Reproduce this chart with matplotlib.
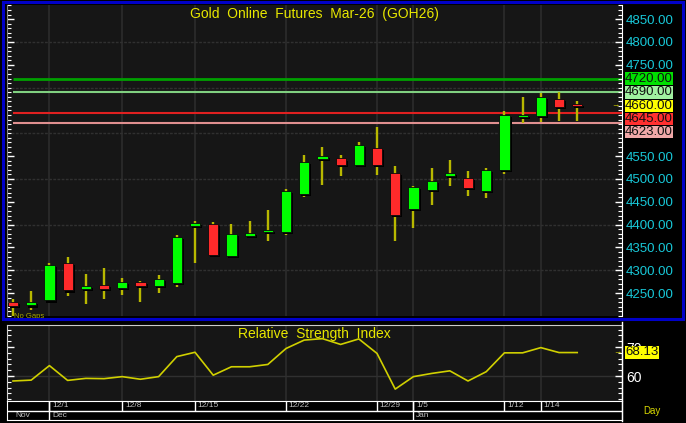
import matplotlib
matplotlib.use("Agg")
import matplotlib.pyplot as plt
from matplotlib.patches import Rectangle
from matplotlib.ticker import MultipleLocator, FixedLocator
import matplotlib.patheffects as pe
import numpy as np

plt.rcParams['font.family'] = ['Liberation Sans', 'DejaVu Sans']

# daily OHLC, Gold Online Futures Mar-26
opens  = [4231, 4223, 4234, 4316, 4260, 4267, 4261, 4275, 4265, 4273, 4398, 4401, 4332, 4376, 4384, 4384,
          4467, 4544, 4545, 4531, 4567, 4513, 4434, 4475, 4506, 4502, 4473, 4519, 4636, 4638, 4676, 4662]
highs  = [4238, 4254, 4317, 4329, 4293, 4305, 4283, 4277, 4289, 4377, 4409, 4406, 4401, 4409, 4433, 4477,
          4553, 4569, 4553, 4581, 4613, 4529, 4485, 4524, 4542, 4518, 4525, 4649, 4679, 4688, 4690, 4671]
lows   = [4201, 4213, 4231, 4243, 4227, 4237, 4247, 4231, 4250, 4263, 4315, 4329, 4331, 4371, 4365, 4377,
          4461, 4487, 4507, 4531, 4509, 4365, 4393, 4443, 4485, 4463, 4458, 4510, 4623, 4625, 4627, 4627]
closes = [4221, 4231, 4311, 4256, 4264, 4260, 4275, 4265, 4281, 4374, 4402, 4333, 4379, 4380, 4386, 4473,
          4537, 4550, 4531, 4575, 4531, 4421, 4483, 4496, 4514, 4480, 4520, 4641, 4640, 4679, 4658, 4660]
rsi = [58.3, 58.6, 63.6, 58.5, 59.2, 59.1, 59.8, 58.9, 59.8, 66.7, 68.2, 60.3, 63.2, 63.2, 64.0, 69.5,
       72.4, 72.9, 70.9, 72.8, 67.8, 55.5, 59.8, 60.9, 61.8, 58.3, 61.5, 68.0, 68.0, 69.8, 68.1, 68.1]
rsi_last = 68.13

date_idx = [2, 6, 10, 15, 20, 22, 27, 29]
date_labels = ['12/1', '12/8', '12/15', '12/22', '12/29', '1/5', '1/12', '1/14']
month_idx = [0, 2, 22]
month_labels = ['Nov', 'Dec', 'Jan']

# horizontal study lines and right-side price flags
line_levels = [4720, 4690, 4645, 4623]
line_colors = ['#00a000', '#80d080', '#e02020', '#e09090']
flag_levels = [4720, 4690, 4660, 4645, 4623]
flag_colors = ['#00e000', '#a0f0a0', '#ffff00', '#ff3030', '#f0a8a8']

W, H = 686, 423
BG = '#161616'
GRID = '#2c2c2c'
fig = plt.figure(figsize=(W / 100, H / 100), dpi=100, facecolor='black')

def fbox(x0, y0, x1, y1):
    # pixel box (top-left origin) -> figure fraction rect
    return [x0 / W, 1 - y1 / H, (x1 - x0) / W, (y1 - y0) / H]

ax = fig.add_axes(fbox(7, 5, 622, 316), facecolor=BG)
ax2 = fig.add_axes(fbox(7, 325, 622, 401), facecolor=BG)
axd = fig.add_axes(fbox(7, 401, 622, 420), facecolor='black')

x = np.arange(len(opens))
xlim = (-0.33, 33.46)

# ---- price panel
ax.set_xlim(*xlim)
ax.set_ylim(4200, 4881)
for d in date_idx:
    ax.axvline(d, color=GRID, lw=1.2, zorder=0)
for g in range(4300, 4900, 100):
    ax.axhline(g, color='#303030', lw=1.0, ls=(0, (2, 1)), zorder=0)

for lv, c in zip(line_levels, line_colors):
    ax.hlines(lv, 0, xlim[1], color=c, lw=2.0 if lv == 4720 else 1.5, zorder=1)

ax.vlines(x, lows, highs, color='#b8b800', lw=1.7, zorder=2)
up = np.array(closes) >= np.array(opens)
bottoms = np.minimum(opens, closes)
heights = np.maximum(np.abs(np.array(closes) - np.array(opens)), 5)
bars = ax.bar(x, heights, bottom=bottoms, width=0.56,
              color=np.where(up, '#00ff00', '#ff2a2a'), edgecolor='#0a0a0a', lw=0.6, zorder=3)
for b in bars:
    b.set_path_effects([pe.SimplePatchShadow(offset=(1.5, -1.5), shadow_rgbFace='black', alpha=1), pe.Normal()])

ax.yaxis.tick_right()
ax.yaxis.set_major_locator(FixedLocator([4250, 4300, 4350, 4400, 4450, 4500, 4550, 4750, 4800, 4850]))
ax.yaxis.set_minor_locator(MultipleLocator(10))
ax.yaxis.set_major_formatter(lambda v, p: '%.2f' % v)
ax.tick_params(axis='y', which='both', left=True, right=True, direction='in', colors='white',
               labelcolor='#18c8d8', labelsize=9.5, pad=3)
ax.tick_params(axis='y', which='major', length=5, width=1)
ax.tick_params(axis='y', which='minor', length=3, width=0.8)
ax.set_xticks([])
for s in ax.spines.values():
    s.set_visible(False)
ax.spines['right'].set_visible(True)
ax.spines['right'].set_color('white')
ax.spines['left'].set_visible(True)
ax.spines['left'].set_color('#888888')

ax.text(0.5, 1 - 9 / 311, 'Gold  Online  Futures  Mar-26  (GOH26)', transform=ax.transAxes,
        ha='center', va='center', color='#e8e800', fontsize=10)
ax.text(0.012, 0.0, 'No Gaps', transform=ax.transAxes, ha='left', va='center',
        color='#a8a800', fontsize=5.5)

# price flags, stacked so they do not overlap
fig.canvas.draw()
prev = None
for lv, c in zip(flag_levels, flag_colors):
    yd = ax.transData.transform((0, lv))[1]
    if prev is not None and yd > prev - 13:
        yd = prev - 13
    prev = yd
    fig.text(625 / W, yd / H, '%.2f' % lv, ha='left', va='center', fontsize=9.5, color='#101010',
             bbox=dict(boxstyle='square,pad=0.03', fc=c, ec='none'))
ycur = ax.transData.transform((0, closes[-1]))[1]
fig.text(615 / W, ycur / H, '\u2192', ha='center', va='center', fontsize=6, color='#d8d800')

# ---- RSI panel
ax2.set_xlim(*xlim)
ax2.set_ylim(51.4, 77.6)
for d in date_idx:
    ax2.axvline(d, color=GRID, lw=1.2, zorder=0)
ax2.axhline(60, color='#303030', lw=1.0, zorder=0)
ax2.plot(x, rsi, color='#d0d000', lw=1.2, zorder=2)
ax2.yaxis.tick_right()
ax2.yaxis.set_major_locator(FixedLocator([60, 70]))
ax2.yaxis.set_minor_locator(MultipleLocator(2))
ax2.tick_params(axis='y', which='both', left=True, right=True, direction='in', colors='white',
                labelcolor='white', labelsize=10, pad=3)
ax2.tick_params(axis='y', which='major', length=5, width=1)
ax2.tick_params(axis='y', which='minor', length=3, width=0.8)
ax2.set_xticks([])
for s in ax2.spines.values():
    s.set_color('#cccccc')
ax2.spines['bottom'].set_visible(False)
ax2.text(0.5, 1 - 9 / 76, 'Relative  Strength  Index', transform=ax2.transAxes,
         ha='center', va='center', color='#e8e800', fontsize=10)
yr = ax2.transData.transform((0, rsi_last))[1]
fig.text(625 / W, yr / H, '%.2f' % rsi_last, ha='left', va='center', fontsize=9.5, color='#101010',
         bbox=dict(boxstyle='square,pad=0.03', fc='#ffff00', ec='none'), zorder=5)
fig.text(617 / W, yr / H, '\u2192', ha='center', va='center', fontsize=6, color='#d8d800')

# ---- date strip
axd.set_xlim(*xlim)
axd.set_ylim(0, 2)
axd.set_xticks([])
axd.set_yticks([])
for s in axd.spines.values():
    s.set_color('white')
axd.axhline(1, color='white', lw=1)
for d, lab in zip(date_idx, date_labels):
    axd.vlines(d, 1, 2, color='white', lw=1)
    axd.text(d + 0.15, 1.5, lab, ha='left', va='center', color='#c0c0c0', fontsize=6)
for m, lab in zip(month_idx, month_labels):
    if m > 0:
        axd.vlines(m, 0, 2, color='white', lw=1)
    axd.text(m + 0.15, 0.5, lab, ha='left', va='center', color='#c0c0c0', fontsize=6)
fig.text(652 / W, 1 - 411 / H, 'Day', ha='center', va='center', color='#d8d800', fontsize=7)

# blue frame around price panel, axis line through strips
fig.add_artist(Rectangle((3 / W, 1 - 319 / H), 680 / W, 317 / H, transform=fig.transFigure,
                         fill=False, ec='#0000c8', lw=2.2))
fig.add_artist(plt.Line2D([622 / W, 622 / W], [1 - 421 / H, 1 - 322 / H], transform=fig.transFigure,
                          color='white', lw=1))

fig.savefig('out.png', dpi=100, facecolor=fig.get_facecolor())
